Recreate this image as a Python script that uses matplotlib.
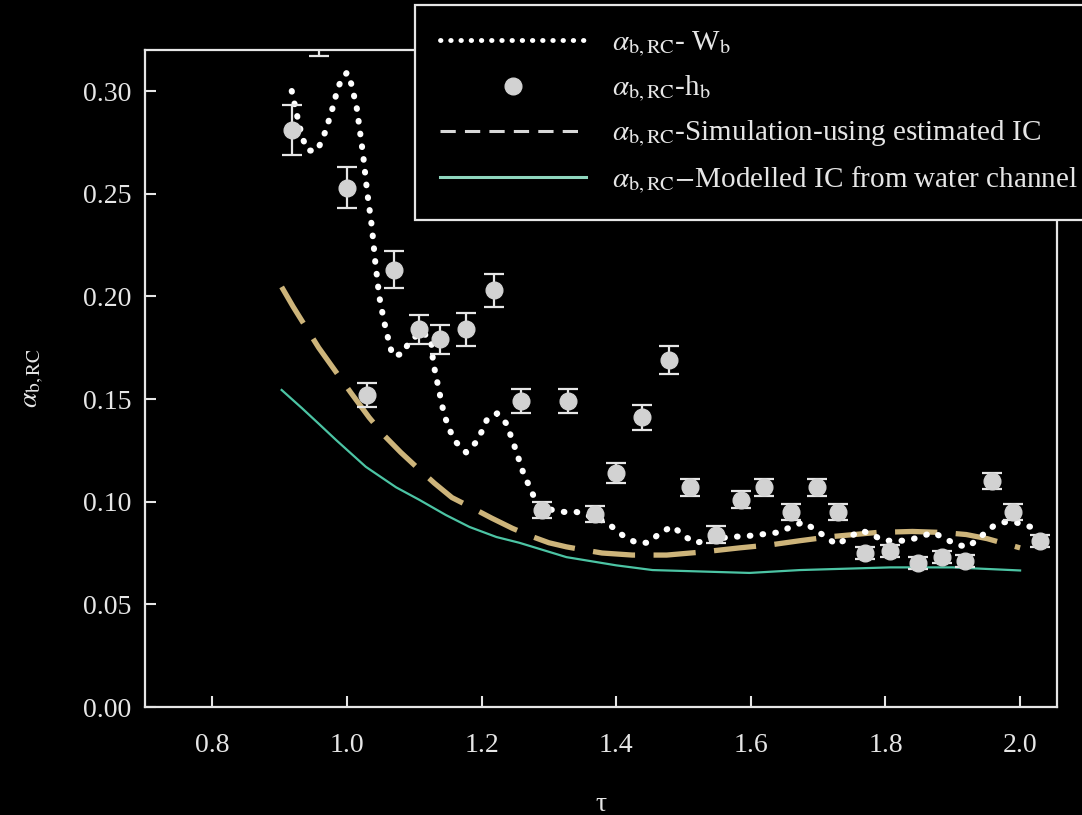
import matplotlib
matplotlib.use("Agg")
import matplotlib.pyplot as plt
from matplotlib.lines import Line2D

plt.rcParams["font.family"] = ["Liberation Serif", "DejaVu Serif"]
plt.rcParams["mathtext.fontset"] = "stix"

# alpha_b,RC from h_b (points with error bars)
tau_h = [0.918, 0.958, 1.000, 1.030, 1.070, 1.107, 1.138, 1.177, 1.219, 1.259,
         1.290, 1.329, 1.369, 1.400, 1.439, 1.479, 1.509, 1.548, 1.586, 1.619,
         1.659, 1.698, 1.729, 1.769, 1.807, 1.848, 1.884, 1.918, 1.958, 1.990, 2.030]
alpha_h = [0.281, 0.328, 0.253, 0.152, 0.213, 0.184, 0.179, 0.184, 0.203, 0.149,
           0.096, 0.149, 0.094, 0.114, 0.141, 0.169, 0.107, 0.084, 0.101, 0.107,
           0.095, 0.107, 0.095, 0.075, 0.076, 0.070, 0.073, 0.071, 0.110, 0.095, 0.081]
err_h = [0.012, 0.011, 0.010, 0.006, 0.009, 0.007, 0.007, 0.008, 0.008, 0.006,
         0.004, 0.006, 0.004, 0.005, 0.006, 0.007, 0.004, 0.004, 0.004, 0.004,
         0.004, 0.004, 0.004, 0.003, 0.003, 0.003, 0.003, 0.003, 0.004, 0.004, 0.003]

# alpha_b,RC from W_b
tau_w = [0.918, 0.922, 0.926, 0.934, 0.942, 0.956, 0.964, 0.970, 0.975, 0.981,
         0.985, 0.991, 1.000, 1.007, 1.015, 1.024, 1.030, 1.037, 1.042, 1.048,
         1.055, 1.063, 1.068, 1.083, 1.091, 1.110, 1.125, 1.128, 1.135, 1.142,
         1.147, 1.154, 1.162, 1.177, 1.192, 1.200, 1.208, 1.223, 1.237, 1.250,
         1.262, 1.277, 1.290, 1.305, 1.323, 1.341, 1.378, 1.393, 1.412, 1.430,
         1.448, 1.466, 1.484, 1.502, 1.518, 1.534, 1.571, 1.588, 1.640, 1.677,
         1.693, 1.728, 1.747, 1.765, 1.799, 1.833, 1.871, 1.906, 1.923, 1.960,
         1.976, 1.993, 2.012, 2.028]
alpha_w = [0.300, 0.294, 0.288, 0.277, 0.271, 0.271, 0.277, 0.282, 0.288, 0.294,
           0.300, 0.305, 0.309, 0.303, 0.291, 0.269, 0.251, 0.234, 0.217, 0.200,
           0.188, 0.177, 0.171, 0.172, 0.177, 0.183, 0.179, 0.168, 0.157, 0.146,
           0.140, 0.134, 0.129, 0.124, 0.129, 0.134, 0.140, 0.143, 0.138, 0.126,
           0.114, 0.103, 0.097, 0.096, 0.095, 0.095, 0.091, 0.088, 0.083, 0.080,
           0.080, 0.085, 0.088, 0.083, 0.080, 0.081, 0.083, 0.083, 0.085, 0.090,
           0.087, 0.079, 0.083, 0.086, 0.081, 0.081, 0.085, 0.079, 0.078, 0.088,
           0.090, 0.090, 0.088, 0.087]

# simulation using estimated IC
tau_sim = [0.903, 0.920, 0.939, 0.958, 0.982, 1.006, 1.033, 1.056, 1.080, 1.103,
           1.130, 1.156, 1.186, 1.215, 1.246, 1.275, 1.300, 1.326, 1.352, 1.379,
           1.424, 1.475, 1.528, 1.583, 1.630, 1.673, 1.720, 1.787, 1.840, 1.885,
           1.920, 1.951, 2.000]
alpha_sim = [0.2046, 0.195, 0.185, 0.175, 0.164, 0.153, 0.141, 0.132, 0.124, 0.117,
             0.109, 0.102, 0.097, 0.092, 0.087, 0.083, 0.080, 0.078, 0.0765, 0.075,
             0.074, 0.074, 0.0755, 0.0775, 0.079, 0.081, 0.083, 0.085, 0.0855, 0.085,
             0.084, 0.082, 0.0775]

# modelled IC from water channel
tau_mod = [0.903, 0.933, 0.958, 0.984, 1.028, 1.073, 1.107, 1.147, 1.182, 1.222,
           1.256, 1.326, 1.400, 1.454, 1.598, 1.673, 1.807, 1.900, 2.000]
alpha_mod = [0.1544, 0.1456, 0.138, 0.130, 0.117, 0.107, 0.101, 0.0935, 0.0877, 0.0828,
             0.080, 0.073, 0.069, 0.0667, 0.0653, 0.0667, 0.068, 0.068, 0.0665]

labels = [r"$\alpha_{\rm b,RC}$- W$_{\rm b}$",
          r"$\alpha_{\rm b,RC}$-h$_{\rm b}$",
          r"$\alpha_{\rm b,RC}$-Simulation-using estimated IC",
          r"$\alpha_{\rm b,RC}$$-$Modelled IC from water channel"]

fg = "#e6e6e6"
fig = plt.figure(figsize=(10.82, 8.15), dpi=100, facecolor="black")
ax = fig.add_axes([0.134, 0.1325, 0.843, 0.8062], facecolor="black")

ax.plot(tau_mod, alpha_mod, color="#4cc4a4", lw=1.6, zorder=2)
ax.plot(tau_sim, alpha_sim, color="#cdb47a", lw=3.8, dashes=(8, 3.5), zorder=3)
ax.plot(tau_w, alpha_w, color="white", lw=4.4, linestyle=(0, (0.1, 2.0)),
        dash_capstyle="round", zorder=4)
ax.errorbar(tau_h, alpha_h, yerr=err_h, fmt="o", color="#d2d2d2", ms=12,
            ecolor=fg, elinewidth=1.6, capsize=7, capthick=1.6, zorder=5)

ax.set_xlim(0.7, 2.055)
ax.set_ylim(0, 0.32)
ax.set_xticks([0.8, 1.0, 1.2, 1.4, 1.6, 1.8, 2.0])
ax.set_xticklabels(["0.8", "1.0", "1.2", "1.4", "1.6", "1.8", "2.0"])
ax.set_yticks([0.0, 0.05, 0.10, 0.15, 0.20, 0.25, 0.30])
ax.set_yticklabels(["0.00", "0.05", "0.10", "0.15", "0.20", "0.25", "0.30"])
ax.tick_params(axis="both", direction="in", length=8, width=1.5, color=fg,
               labelcolor=fg, labelsize=20)
ax.tick_params(axis="x", pad=19)
ax.tick_params(axis="y", pad=10)
for s in ax.spines.values():
    s.set_color(fg)
    s.set_linewidth(1.6)

ax.set_xlabel("τ", color=fg, fontsize=20, labelpad=24)
ax.set_ylabel(r"$\alpha_{\rm b,RC}$", color=fg, fontsize=20, labelpad=26)

handles = [
    Line2D([], [], color="white", lw=3.5, linestyle=(0, (0.1, 2.0)), dash_capstyle="round"),
    Line2D([], [], color="#d2d2d2", marker="o", ms=12, linestyle="none"),
    Line2D([], [], color="#d8d8d8", lw=2.2, dashes=(5, 3)),
    Line2D([], [], color="#8fd6be", lw=2.2),
]
leg = ax.legend(handles, labels, loc="upper left",
                bbox_to_anchor=(415 / 1082, 1 - 5 / 815), bbox_transform=fig.transFigure,
                fontsize=21, frameon=True, fancybox=False, facecolor="black",
                edgecolor=fg, framealpha=1, handlelength=5.0, handletextpad=0.9,
                labelspacing=0.5, borderpad=0.85, borderaxespad=0)
leg.get_frame().set_linewidth(1.6)
leg.set_zorder(10)
for t in leg.get_texts():
    t.set_color(fg)

fig.savefig("out.png", dpi=100, facecolor="black")
